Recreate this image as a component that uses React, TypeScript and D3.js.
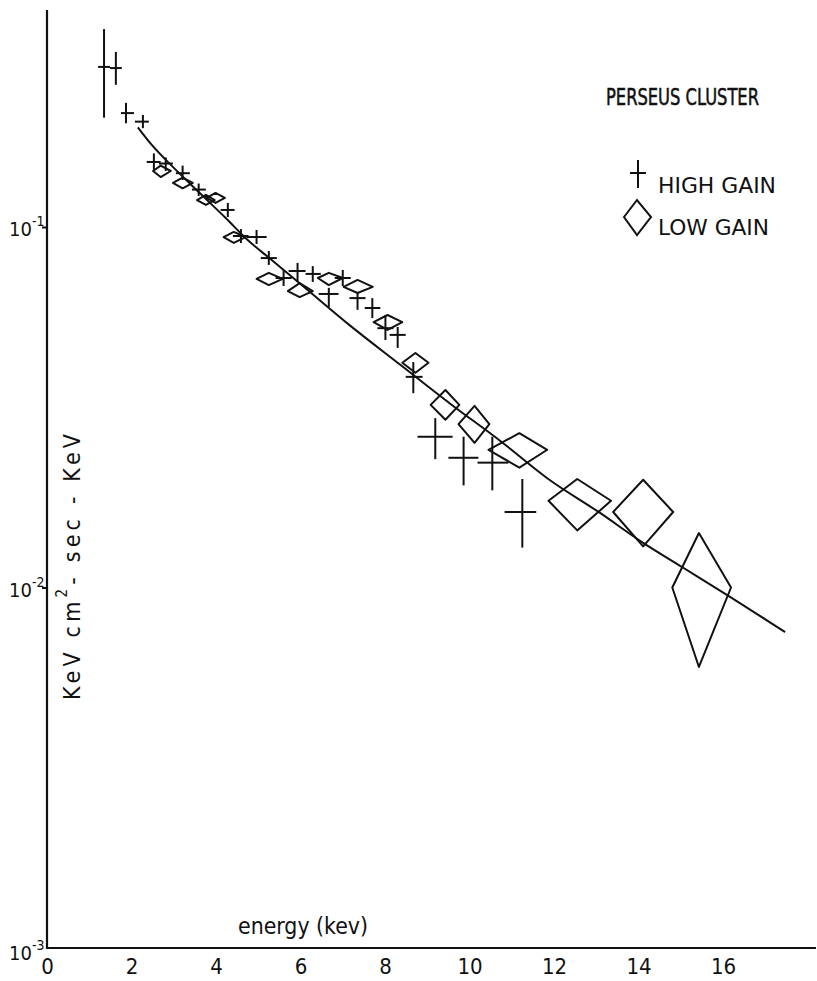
import React, { useEffect, useRef } from 'react';
import * as d3 from 'd3';

const xTicks = [0, 2, 4, 6, 8, 10, 12, 14, 16];
const yTicks = [1e-1, 1e-2, 1e-3];
const yTickExp = ['-1', '-2', '-3'];
const xEnd = 18.2;
const yTop = 0.4;

// [energy, flux, eLo, eHi, fLo, fHi]
const highGain = [
    [1.35, 0.278, 1.21, 1.49, 0.201, 0.354],
    [1.63, 0.276, 1.49, 1.77, 0.248, 0.306],
    [1.87, 0.207, 1.75, 2.06, 0.194, 0.221],
    [2.27, 0.196, 2.08, 2.41, 0.188, 0.2045],
    [2.53, 0.1515, 2.36, 2.69, 0.144, 0.160],
    [2.81, 0.150, 2.65, 2.98, 0.143, 0.156],
    [3.21, 0.141, 3.05, 3.38, 0.135, 0.148],
    [3.59, 0.127, 3.43, 3.76, 0.122, 0.132],
    [4.28, 0.1115, 4.11, 4.44, 0.1066, 0.1166],
    [4.59, 0.0944, 4.40, 4.77, 0.0903, 0.0987],
    [4.96, 0.0938, 4.73, 5.20, 0.0897, 0.0981],
    [5.25, 0.082, 5.06, 5.44, 0.0785, 0.0858],
    [5.60, 0.0722, 5.41, 5.79, 0.0686, 0.0760],
    [5.93, 0.0755, 5.72, 6.12, 0.0704, 0.0795],
    [6.29, 0.0741, 6.12, 6.48, 0.0704, 0.0779],
    [6.67, 0.0652, 6.43, 6.90, 0.0600, 0.0678],
    [7.00, 0.0722, 6.81, 7.19, 0.0686, 0.0760],
    [7.35, 0.0635, 7.16, 7.54, 0.0589, 0.0660],
    [7.70, 0.0596, 7.52, 7.89, 0.0559, 0.0635],
    [8.01, 0.0524, 7.82, 8.20, 0.0486, 0.0570],
    [8.30, 0.0502, 8.11, 8.49, 0.0462, 0.0528],
    [8.67, 0.0384, 8.49, 8.89, 0.0346, 0.0422],
    [9.19, 0.0262, 8.77, 9.60, 0.0227, 0.0295],
    [9.86, 0.0229, 9.50, 10.21, 0.0192, 0.0262],
    [10.54, 0.0222, 10.19, 10.92, 0.0186, 0.0262],
    [11.25, 0.0162, 10.83, 11.58, 0.0129, 0.0200],
];

// [energy, flux, eLo, eHi, fLo, fHi]
const lowGain = [
    [2.69, 0.143, 2.51, 2.93, 0.1376, 0.148],
    [3.21, 0.1325, 2.98, 3.45, 0.128, 0.137],
    [3.76, 0.1188, 3.55, 3.97, 0.1151, 0.1227],
    [3.99, 0.1204, 3.78, 4.21, 0.1166, 0.1243],
    [4.42, 0.0938, 4.18, 4.70, 0.0903, 0.0969],
    [5.25, 0.0718, 4.96, 5.58, 0.0690, 0.0746],
    [5.98, 0.0664, 5.70, 6.29, 0.0639, 0.0699],
    [6.67, 0.0722, 6.41, 7.00, 0.0690, 0.0746],
    [7.35, 0.0682, 7.02, 7.71, 0.0656, 0.0713],
    [8.06, 0.0545, 7.73, 8.41, 0.0518, 0.0570],
    [8.72, 0.0420, 8.41, 9.03, 0.0394, 0.0447],
    [9.43, 0.0321, 9.08, 9.76, 0.0292, 0.0353],
    [10.12, 0.0284, 9.74, 10.47, 0.0252, 0.0319],
    [11.18, 0.0241, 10.45, 11.84, 0.0215, 0.0268],
    [12.55, 0.0174, 11.87, 13.35, 0.0144, 0.0200],
    [14.11, 0.0162, 13.40, 14.82, 0.0130, 0.0199],
    [15.43, 0.0100, 14.80, 16.19, 0.00602, 0.01416],
];

const modelE = [2.15, 2.46, 3.05, 3.64, 4.23, 4.75, 5.29, 6.00, 7.19, 8.37, 9.55, 10.73, 11.84, 13.09, 14.11, 15.03, 16.10, 17.47];
const modelF = [0.189, 0.170, 0.144, 0.1234, 0.1059, 0.0920, 0.0815, 0.0695, 0.0531, 0.0414, 0.0323, 0.0255, 0.0201, 0.0161, 0.0133, 0.0114, 0.00953, 0.00752];

const FONT = "'DejaVu Sans Condensed', 'Liberation Sans Narrow', 'DejaVu Sans', sans-serif";
const INK = '#111';

const App = () => {
    const svgRef = useRef<SVGSVGElement>(null);

    useEffect(() => {
        const width = 817;
        const height = 981;

        const x = d3.scaleLinear().domain([0, 16]).range([47, 723]);
        const y = d3.scaleLog().domain([1e-3, 1e-1]).range([948, 227]);

        const svg = d3.select(svgRef.current)
            .attr('width', width)
            .attr('height', height)
            .attr('viewBox', [0, 0, width, height])
            .style('font-family', FONT);
        svg.selectAll('*').remove();

        // axis lines
        svg.append('path')
            .attr('fill', 'none')
            .attr('stroke', INK)
            .attr('stroke-width', 2.2)
            .attr('d', `M${x(0)},${y(yTop)}V${y(1e-3)}H${x(xEnd)}`);

        svg.append('g')
            .attr('transform', `translate(0,${y(1e-3)})`)
            .call(d3.axisBottom(x).tickValues(xTicks).tickSize(0).tickPadding(10).tickFormat(d3.format('d')))
            .call(g => g.select('.domain').remove())
            .call(g => g.selectAll('text')
                .attr('font-family', FONT)
                .attr('font-size', 22)
                .attr('fill', INK));

        svg.append('g')
            .attr('transform', `translate(${x(0)},0)`)
            .call(d3.axisLeft(y).tickValues([1e-1, 1e-2]).tickSize(5).tickFormat(() => ''))
            .call(g => g.select('.domain').remove())
            .call(g => g.selectAll('line').attr('stroke', INK).attr('stroke-width', 2));

        const yLab = svg.append('g')
            .selectAll('text')
            .data(yTicks)
            .join('text')
            .attr('x', 9)
            .attr('y', (d, i) => y(d) + (i === 2 ? 12 : 9))
            .attr('font-size', 20)
            .attr('fill', INK);
        yLab.append('tspan').text('10');
        yLab.append('tspan')
            .attr('dy', -10)
            .attr('font-size', 14)
            .text((d, i) => yTickExp[i]);

        // y label
        const ylab = svg.append('text')
            .attr('transform', 'rotate(-90)')
            .attr('x', -700)
            .attr('y', 80)
            .attr('font-size', 23)
            .attr('fill', INK)
            .attr('textLength', 266)
            .attr('lengthAdjust', 'spacing');
        ylab.append('tspan').text('KeV cm');
        ylab.append('tspan').attr('dy', -13).attr('font-size', 15).text('2');
        ylab.append('tspan').attr('dy', 13).text('- sec - KeV');

        svg.append('text')
            .attr('x', 238)
            .attr('y', 934)
            .attr('font-size', 23)
            .attr('fill', INK)
            .attr('textLength', 130)
            .attr('lengthAdjust', 'spacingAndGlyphs')
            .text('energy (kev)');

        // model line
        const line = d3.line<number>()
            .x((d, i) => x(modelE[i]))
            .y(d => y(d))
            .curve(d3.curveMonotoneX);
        svg.append('path')
            .attr('fill', 'none')
            .attr('stroke', INK)
            .attr('stroke-width', 2)
            .attr('d', line(modelF));

        // high gain crosses
        const hg = svg.append('g')
            .attr('stroke', INK)
            .attr('stroke-width', 2)
            .selectAll('g')
            .data(highGain)
            .join('g');
        hg.append('line')
            .attr('x1', d => x(d[0])).attr('x2', d => x(d[0]))
            .attr('y1', d => y(d[4])).attr('y2', d => y(d[5]));
        hg.append('line')
            .attr('x1', d => x(d[2])).attr('x2', d => x(d[3]))
            .attr('y1', d => y(d[1])).attr('y2', d => y(d[1]));

        // low gain diamonds
        svg.append('g')
            .attr('fill', 'none')
            .attr('stroke', INK)
            .attr('stroke-width', 2)
            .attr('stroke-linejoin', 'round')
            .selectAll('path')
            .data(lowGain)
            .join('path')
            .attr('d', d => `M${x(d[2])},${y(d[1])}L${x(d[0])},${y(d[5])}L${x(d[3])},${y(d[1])}L${x(d[0])},${y(d[4])}Z`);

        // title and legend
        svg.append('text')
            .attr('x', 606)
            .attr('y', 105)
            .attr('font-size', 23)
            .attr('fill', INK)
            .attr('stroke', INK)
            .attr('stroke-width', 0.5)
            .attr('textLength', 153)
            .attr('lengthAdjust', 'spacingAndGlyphs')
            .text('PERSEUS CLUSTER');

        const leg = svg.append('g').attr('stroke', INK).attr('stroke-width', 2).attr('fill', 'none');
        leg.append('path').attr('d', 'M638,160V188M630,173H646');
        leg.append('path').attr('d', 'M624,217L637,200L651,217L637,235Z');

        svg.append('text')
            .attr('x', 658).attr('y', 193)
            .attr('font-size', 21).attr('fill', INK)
            .attr('textLength', 118).attr('lengthAdjust', 'spacingAndGlyphs')
            .text('HIGH GAIN');
        svg.append('text')
            .attr('x', 658).attr('y', 235)
            .attr('font-size', 21).attr('fill', INK)
            .attr('textLength', 111).attr('lengthAdjust', 'spacingAndGlyphs')
            .text('LOW GAIN');
    }, []);

    return <svg ref={svgRef} style={{ position: 'absolute', left: 0, top: 0, background: '#fff' }}></svg>;
};

export default App;
